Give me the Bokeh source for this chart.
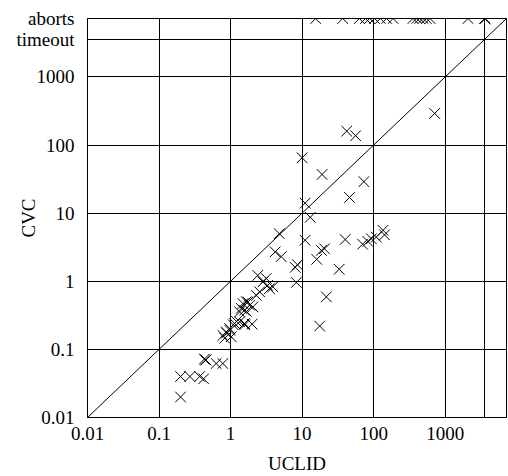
from bokeh.plotting import figure
from bokeh.models import FixedTicker, Range1d, ColumnDataSource
from bokeh.embed import file_html
from bokeh.resources import INLINE

# ---- data (seconds) ----
uclid = [0.2, 0.2, 0.27, 0.37, 0.42, 0.45, 0.45, 0.43, 0.63, 0.78,
         0.83, 0.78, 0.88, 0.87, 0.98, 0.97, 1.02, 1.09, 1.14, 1.21,
         1.34, 1.58, 1.57, 2.0, 1.34, 1.41, 1.57, 1.67, 1.66, 1.85,
         2.05, 1.75, 1.49, 2.29, 2.55, 2.4, 3.15, 2.83, 3.3, 3.9,
         3.5, 4.2, 5.1, 4.8, 8.0, 8.6, 8.3, 10, 11, 13,
         11, 16, 18.6, 20.6, 17.6, 21.8, 19, 33, 40, 46,
         73, 70, 83, 93, 109, 135, 142, 42, 56, 713]
cvc = [0.02, 0.04, 0.04, 0.04, 0.037, 0.07, 0.07, 0.072, 0.062, 0.062,
       0.146, 0.16, 0.174, 0.18, 0.19, 0.203, 0.153, 0.23, 0.24, 0.257,
       0.254, 0.23, 0.24, 0.235, 0.355, 0.4, 0.376, 0.36, 0.5, 0.445,
       0.42, 0.497, 0.47, 0.62, 0.70, 1.22, 1.1, 0.98, 0.87, 0.83,
       0.78, 2.7, 2.3, 5.0, 1.6, 1.75, 0.96, 65, 14, 8.7,
       4.0, 2.1, 2.84, 3.0, 0.22, 0.59, 37, 1.5, 4.1, 17,
       29, 3.5, 3.85, 4.2, 4.45, 5.6, 4.8, 160, 137, 291]
# runs where CVC aborted (plotted on the "aborts" row)
abort_uclid = [15.5, 37, 63, 77, 88, 103, 124, 152, 187,
               355, 400, 440, 490, 545, 615, 2085, 3600, 3600, 3600, 7200]

timeout_level = 3600
aborts_level = 7200
axis_min = 0.01

x_ticks = [0.01, 0.1, 1, 10, 100, 1000, 3600, 7200]
x_tick_labels = ["0.01", "0.1", "1", "10", "100", "1000", "", ""]
y_ticks = [0.01, 0.1, 1, 10, 100, 1000, 3600, 7200]
y_tick_labels = ["0.01", "0.1", "1", "10", "100", "1000", "timeout", "aborts"]
diag = [axis_min, aborts_level]

FONT = "Liberation Serif"
FS = "19px"

p = figure(width=508, height=476, x_axis_type="log", y_axis_type="log",
           x_range=Range1d(axis_min, aborts_level), y_range=Range1d(axis_min, aborts_level),
           output_backend="svg", toolbar_location=None,
           min_border_left=87, min_border_right=2, min_border_top=18, min_border_bottom=59)
p.background_fill_color = "white"
p.border_fill_color = "white"
p.outline_line_color = "black"
p.outline_line_width = 1

for ax, ticks, labels in ((p.xaxis[0], x_ticks, x_tick_labels), (p.yaxis[0], y_ticks, y_tick_labels)):
    ax.ticker = FixedTicker(ticks=ticks, minor_ticks=[])
    ax.major_label_overrides = {t: l for t, l in zip(ticks, labels)}
    ax.major_label_text_font = FONT
    ax.major_label_text_font_size = FS
    ax.major_label_text_color = "black"
    ax.axis_line_color = "black"
    ax.major_tick_in = 9
    ax.major_tick_out = 0
    ax.major_tick_line_color = "black"
    ax.minor_tick_line_color = None
    ax.axis_label_text_font = FONT
    ax.axis_label_text_font_size = FS
    ax.axis_label_text_font_style = "normal"
    ax.axis_label_text_color = "black"

p.xaxis.major_label_standoff = 9
p.yaxis.major_label_standoff = 13
p.xaxis.axis_label = "UCLID"
p.xaxis.axis_label_standoff = 10
p.yaxis.axis_label = "CVC"
p.yaxis.axis_label_standoff = -26

for g, ticks in ((p.xgrid[0], x_ticks), (p.ygrid[0], y_ticks)):
    g.ticker = FixedTicker(ticks=ticks, minor_ticks=[])
    g.grid_line_color = "black"
    g.grid_line_width = 1
    g.grid_line_alpha = 1.0

# diagonal y = x
p.line(diag, diag, line_color="black", line_width=1)

src = ColumnDataSource(dict(x=uclid, y=cvc))
p.scatter("x", "y", source=src, marker="x", size=15, line_color="black", line_width=1)
src2 = ColumnDataSource(dict(x=abort_uclid, y=[aborts_level] * len(abort_uclid)))
p.scatter("x", "y", source=src2, marker="x", size=15, line_color="black", line_width=1)

open("out.html", "w").write(file_html(p, INLINE))
